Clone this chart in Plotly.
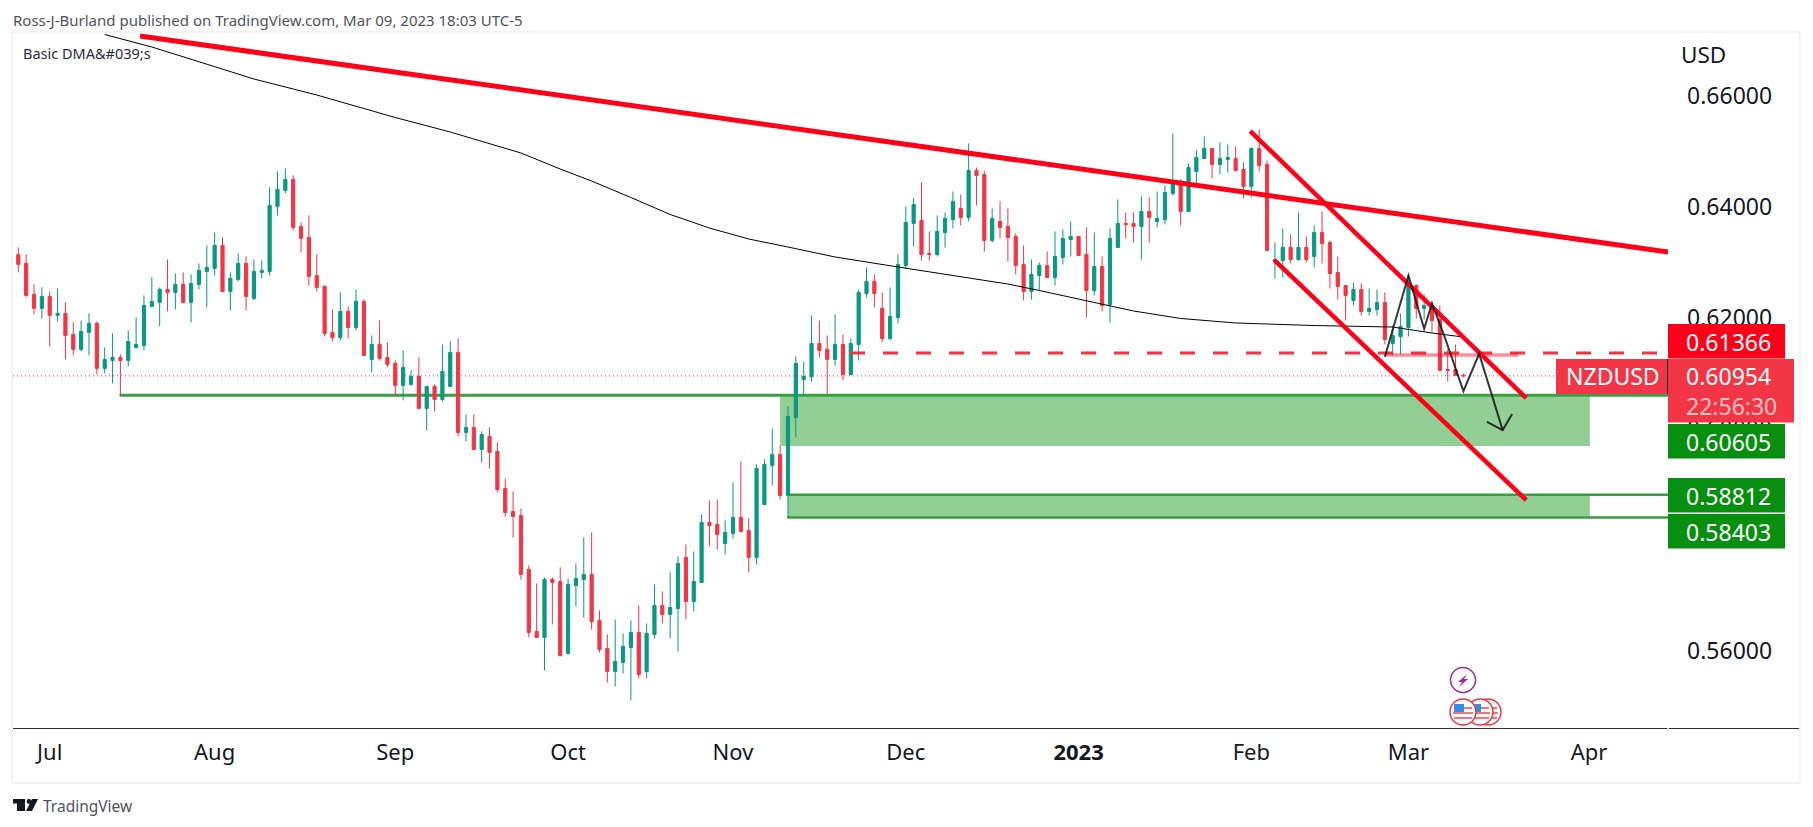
import plotly.graph_objects as go
import pandas as pd

# NZDUSD daily bars, in 0.00001 price points
open_pts = [63143,62981,62422,62170,62386,62044,62080,61701,61431,61737,61900,61089,61233,61287,61233,61467,61503,62206,62278,62512,
62458,62602,62278,62602,62836,62890,63305,62476,62692,62981,62350,62818,62836,64008,64296,64494,63647,63449,62764,62566,
61737,61647,62116,61827,62296,61251,61521,61287,61179,60782,60800,60945,60367,60763,60529,60763,61376,59934,60024,59628,
59862,59592,58925,58511,58439,57466,56349,56240,57285,57249,55952,57177,57285,57376,56547,56042,55628,55790,56060,56331,
55628,56295,56817,56655,56763,57682,56889,57231,58313,58276,57934,58114,58403,58168,57682,58637,59340,59538,58799,60204,
60889,60937,61538,61430,61250,61520,60979,61520,62439,62655,62169,61628,62006,62943,63700,63754,63160,63142,63538,63772,
63970,63808,64655,64583,63394,63736,63646,63466,62961,62475,62763,62943,62727,63088,63412,63466,63142,62493,62925,62241,
63268,63700,63700,63646,63916,63736,63772,64241,64421,63916,64637,64871,65051,64763,64853,64871,64673,64367,65051,64763,
63015,63033,63268,63051,63268,63106,63538,63358,62817,62583,62313,62511,62115,62151,62277,61538,61664,61826,62583,62169,
62169,61970,61069,61069,60961]
high_pts = [63269,63143,62602,62548,62476,62530,62278,61918,61954,62080,61936,61467,61719,61341,61773,62008,62404,62728,62548,63053,
62800,62818,62782,62981,63305,63539,63449,62818,63161,63107,63053,63035,64350,64638,64692,64566,63719,63845,63143,62584,
62152,62458,62206,62512,62332,61683,61954,61557,61233,61413,61053,61287,60770,60799,61520,61574,61628,60258,60258,59952,
60024,59754,59105,58871,58565,57538,57213,57322,57322,57502,57304,57574,58042,58132,56727,56295,56565,56313,56547,56817,
56493,57195,57069,57412,57700,57916,57790,58457,58709,58727,58349,59033,59412,58385,59358,59448,60006,59700,60403,61304,
61213,62042,61952,61682,62060,61700,61628,62511,62907,62781,62457,62547,63142,64006,64151,64439,63556,63844,63898,64277,
64223,65142,64709,64655,63970,64097,63970,63520,63304,63051,62997,63196,63556,63592,63736,63470,63628,63538,63106,63610,
64133,63898,63898,64187,64169,64277,64385,65322,64493,64781,65015,65268,65055,65160,65124,65088,64799,65069,65394,64835,
63358,63610,63502,63898,63466,63664,63916,63394,63106,62590,62637,62619,62529,62511,62457,61862,62079,62781,62601,62421,
62277,62223,61430,61520,60997]
low_pts = [62818,62368,62062,61990,61485,61936,61251,61323,61395,61323,60981,60999,60818,60596,61125,61460,61413,62188,61845,62116,
62152,62260,61918,62512,62188,62764,62470,62134,62656,62134,62314,62710,62764,63845,64242,63575,63179,62584,62476,61665,
61575,61593,61629,61773,61320,61017,61233,61107,60596,60512,60782,60350,59970,60313,60493,60760,59862,59772,59620,59394,
59285,58853,58421,58042,57285,56240,56235,55646,56475,55898,55934,56799,56601,56385,55970,55430,55358,55592,55105,55502,
55502,56222,56493,56222,55988,56565,56709,57225,57880,57826,57736,58024,58132,57412,57556,58630,58979,58727,58397,59844,
60589,60853,61286,60637,61142,60871,60975,61232,62367,62187,61556,61592,61898,62889,63286,63033,63033,63106,63268,63610,
63664,63736,64024,63196,63358,63430,63015,62781,62313,62331,62493,62709,62583,62961,63106,63120,62006,62403,62115,61916,
63262,63430,63358,63051,63358,63628,63682,64205,63664,63910,64385,64865,64511,64583,64619,64637,64151,64169,64637,63208,
62709,62727,62979,63033,62997,62907,62979,62529,62331,61952,62223,62042,62042,62042,61520,61322,61340,61664,61988,61970,
61736,61045,60853,60955,60925]
close_pts = [62963,62404,62170,62386,62044,62080,61683,61431,61755,61900,61089,61251,61287,61233,61575,61521,62224,62296,62512,62458,
62602,62278,62620,62854,62909,63305,62476,62710,62981,62386,62836,62854,64026,64314,64494,63629,63431,62746,62548,61719,
61647,62116,61827,62296,61323,61521,61269,61161,60782,61107,60945,60368,60763,60529,61033,61376,59934,60024,59628,59898,
59574,58907,58493,58421,57376,56331,56240,57285,57231,55916,57195,57304,57376,56529,56024,55628,55808,56078,56331,55574,
56313,56817,56655,56781,57574,56889,57249,58313,58258,58096,58132,58403,58150,57682,59285,59358,59538,58799,60222,61177,
60943,61538,61412,61250,61520,60979,61538,62457,62655,62439,61628,62024,62961,63718,64042,63142,63142,63556,63790,64097,
63808,64655,64565,63394,63790,63628,63448,62943,62475,62781,62943,62727,63106,63430,63466,63124,62493,62925,62223,63430,
63700,63682,63646,63916,63808,63790,64259,64421,63916,64709,64889,65051,64763,64871,64889,64655,64367,65051,64745,63214,
63051,63268,63051,63268,63051,63538,63340,62799,62565,62403,62511,62115,62169,62277,61610,61682,61844,62583,62169,62223,
61952,61051,61051,60961,60954]

dates = pd.bdate_range("2022-06-27", periods=len(open_pts)).strftime("%b %d, %Y").tolist()
bar_index = list(range(len(open_pts)))

# 200-day moving average, read at selected bars
sma_index = [11,17,25,30,38,48,55,59,64,69,73,78,83,88,93,98,104,112,120,126,130,136,142,148,155,165,175,180,184]
sma_price = [.67105,.66880,.66526,.66303,.66015,.65609,.65348,.65186,.64970,.64681,.64465,.64168,.63862,.63618,.63420,.63276,
             .63096,.62916,.62744,.62609,.62492,.62303,.62123,.61988,.61907,.61861,.61834,.61726,.61654]

y_ticks = [.56,.58,.60,.62,.64,.66]
y_tick_text = ["0.56000","0.58000","0.60000","0.62000","0.64000","0.66000"]
x_ticks = [4,25,48,70,91,113,135,157,177,200]
x_tick_text = ["Jul","Aug","Sep","Oct","Nov","Dec","<b>2023</b>","Feb","Mar","Apr"]

last_price = 0.60954
resistance_level = 0.61366
zone_top = 0.60605
zone_mid = 0.59690
zone2_top = 0.58812
zone2_bot = 0.58403

main_trend_x, main_trend_y = [15.5, 210.05], [.67078, .63186]
chan_up_x, chan_up_y = [156.85, 192.0], [.65366, .60555]
chan_lo_x, chan_lo_y = [159.9, 192.0], [.63042, .58717]
zig_x = [174.0,177.0,179.0,180.0,181.5,184.0,186.0,189.0]
zig_y = [.61298,.62763,.61802,.62259,.61700,.60679,.61352,.59977]
head_x = [187.0,189.0,190.2]
head_y = [.60127,.59977,.60265]

X_RANGE = [-0.675, 210.05]
Y_RANGE = [0.54609, 0.67132]
L, R, T, B = 13, 1668, 33, 728
W, H = 1813, 827
def X(px): return (px - L) / (R - L)
def Y(py): return (B - py) / (B - T)

UP, DOWN = "#089981", "#F23645"
TREND = "#FF0018"
GLINE = "#3A9F41"
GZONE = "#92CF95"
GBOX = "#079010"
FONT = "Noto Sans"
TEXT = "#131722"

fig = go.Figure()
fig.add_trace(go.Candlestick(
    x=bar_index, hovertext=dates,
    open=[v/1e5 for v in open_pts], high=[v/1e5 for v in high_pts],
    low=[v/1e5 for v in low_pts], close=[v/1e5 for v in close_pts],
    increasing=dict(line=dict(color=UP, width=1), fillcolor=UP),
    decreasing=dict(line=dict(color=DOWN, width=1), fillcolor=DOWN),
    whiskerwidth=0, name="NZDUSD", showlegend=False))
fig.add_trace(go.Scatter(x=sma_index, y=sma_price, mode="lines", line=dict(color="#000000", width=1),
                         showlegend=False, hoverinfo="skip", name="200 DMA"))

shapes = []
def data_line(x, y, color, width, dash=None, layer="above"):
    shapes.append(dict(type="line", xref="x", yref="y", x0=x[0], x1=x[1], y0=y[0], y1=y[1], layer=layer,
                       line=dict(color=color, width=width, dash=dash or "solid")))
def data_path(x, y, color, width):
    d = "M " + " L ".join(f"{a},{b}" for a, b in zip(x, y))
    shapes.append(dict(type="path", xref="x", yref="y", path=d, layer="above",
                       line=dict(color=color, width=width), fillcolor="rgba(0,0,0,0)"))
def zone(x0, x1, y0, y1):
    shapes.append(dict(type="rect", xref="x", yref="y", x0=x0, x1=x1, y0=y0, y1=y1, layer="below",
                       fillcolor=GZONE, line=dict(width=0)))
def px_rect(x0, y0, x1, y1, fill, line=None, lw=0):
    shapes.append(dict(type="rect", xref="paper", yref="paper", x0=X(x0), x1=X(x1), y0=Y(y0), y1=Y(y1),
                       fillcolor=fill, layer="above", line=dict(color=line or fill, width=lw)))
def px_circle(cx, cy, r, fill, line, lw):
    shapes.append(dict(type="circle", xref="paper", yref="paper", x0=X(cx-r), x1=X(cx+r), y0=Y(cy-r), y1=Y(cy+r),
                       fillcolor=fill, layer="above", line=dict(color=line, width=lw)))
def px_poly(pts, fill):
    d = "M " + " L ".join(f"{X(a)},{Y(b)}" for a, b in pts) + " Z"
    shapes.append(dict(type="path", xref="paper", yref="paper", path=d, fillcolor=fill, layer="above", line=dict(width=0)))

# zones and support levels, beneath the candles
zone(97, 200.1, zone_mid, zone_top)
zone(98, 200.1, zone2_bot, zone2_top)
data_line([12.9, X_RANGE[1]], [zone_top, zone_top], GLINE, 3, layer="below")
data_line([98, X_RANGE[1]], [zone2_top, zone2_top], GLINE, 2.5, layer="below")
data_line([97.9, X_RANGE[1]], [zone2_bot, zone2_bot], GLINE, 2.5, layer="below")
data_line([X_RANGE[0], X_RANGE[1]], [last_price, last_price], DOWN, 1, dash="1px,3px", layer="below")

# drawings above the candles
data_line([105.9, 208.7], [resistance_level, resistance_level], "#F53347", 3, dash="15px,18px")
data_line([174, 191], [.6133, .6133], "rgba(255,0,24,.45)", 3.5)
data_line(main_trend_x, main_trend_y, TREND, 5)
data_line(chan_up_x, chan_up_y, TREND, 4.5)
data_line(chan_lo_x, chan_lo_y, TREND, 4.5)
data_path(zig_x, zig_y, "rgba(20,20,20,.85)", 2)
data_path(head_x, head_y, "rgba(20,20,20,.85)", 2)

# chart frame and axis rule
shapes.append(dict(type="rect", xref="paper", yref="paper", x0=X(12), x1=X(1800), y0=Y(32), y1=Y(783),
                   layer="below", line=dict(color="#F0F3FA", width=2), fillcolor="rgba(0,0,0,0)"))
for a, b in [(13, 1667.5), (1669, 1799)]:
    shapes.append(dict(type="line", xref="paper", yref="paper", x0=X(a), x1=X(b), y0=Y(728.5), y1=Y(728.5),
                       layer="above", line=dict(color="#2A2E39", width=1)))

# price labels on the axis
px_rect(1668, 324, 1785, 358.5, "#FF0018")
px_rect(1668, 359, 1794, 422.5, DOWN)
px_rect(1556, 359, 1667, 394, DOWN)
shapes.append(dict(type="line", xref="paper", yref="paper", x0=X(1667.5), x1=X(1667.5), y0=Y(359), y1=Y(394),
                   layer="above", line=dict(color="#131722", width=1)))
px_rect(1668, 424, 1785, 458.5, GBOX)
px_rect(1668, 478, 1785, 512.5, GBOX)
px_rect(1668, 514, 1785, 548.5, GBOX)

# event markers
px_circle(1463, 680, 12.5, "#FFFFFF", "#9C27B0", 1.5)
px_poly([(1467,674),(1458,682),(1462,682),(1459,687),(1468,679),(1464,679)], "#9C27B0")
for cx in (1488, 1480, 1463):
    px_circle(cx, 712, 13, "#FFFFFF", DOWN, 1.5)
    for dy, hw in ((-4, 9), (1, 10), (6, 9)):
        px_rect(cx-hw, 712+dy-1, cx+hw, 712+dy+1, "#F6727E")
    px_rect(cx-9, 704, cx+1, 712, "#2F8FE6")

# TradingView mark
px_rect(13, 799, 25, 803.5, "#131722")
px_rect(17, 803, 25, 811, "#131722")
px_circle(29, 801.5, 2.4, "#131722", "#131722", 0)
px_poly([(32,799),(38,799),(32,811),(26,811)], "#131722")

def label(px, py, text, size, color=TEXT, anchor="left", family=FONT):
    fig.add_annotation(xref="paper", yref="paper", x=X(px), y=Y(py), text=text, showarrow=False, xanchor=anchor,
                       yanchor="middle", font=dict(family=family, size=size, color=color), align="left",
                       xshift=0, yshift=0, borderpad=0, borderwidth=0)

label(13, 20, "Ross-J-Burland published on TradingView.com, Mar 09, 2023 18:03 UTC-5", 15, "#50535E")
label(23, 53, "Basic DMA&amp;#039;s", 14.5, "#2A2E39")
label(1681, 55, "USD", 22.5)
label(1686, 341.5, "0.61366", 23, "#FFFFFF")
label(1686, 376.5, "0.60954", 23, "#FFFFFF")
label(1686, 406, "22:56:30", 23, "rgba(255,255,255,.7)")
label(1566, 376.5, "NZDUSD", 23, "#FFFFFF")
label(1686, 441.5, "0.60605", 23, "#FFFFFF")
label(1686, 495.5, "0.58812", 23, "#FFFFFF")
label(1686, 531.5, "0.58403", 23, "#FFFFFF")
label(43, 806, "TradingView", 15.5, "#50535E")

fig.update_layout(
    width=W, height=H, autosize=False,
    margin=dict(l=L, r=W-R, t=T, b=H-B, pad=0),
    paper_bgcolor="#FFFFFF", plot_bgcolor="#FFFFFF",
    boxgap=0.42, showlegend=False, shapes=shapes, hovermode="closest",
    xaxis=dict(range=X_RANGE, rangeslider=dict(visible=False), showgrid=False, zeroline=False, showline=False,
               tickmode="array", tickvals=x_ticks, ticktext=x_tick_text, ticks="", ticklabelstandoff=9,
               tickfont=dict(family=FONT, size=22, color=TEXT)),
    yaxis=dict(range=Y_RANGE, side="right", showgrid=False, zeroline=False, showline=False,
               tickmode="array", tickvals=y_ticks, ticktext=y_tick_text, ticks="", ticklabelstandoff=18,
               tickfont=dict(family=FONT, size=23, color=TEXT)),
)

fig.write_html("out.html", config=dict(displayModeBar=False),
               post_script="document.body.style.margin='0';document.body.style.overflow='hidden';")
